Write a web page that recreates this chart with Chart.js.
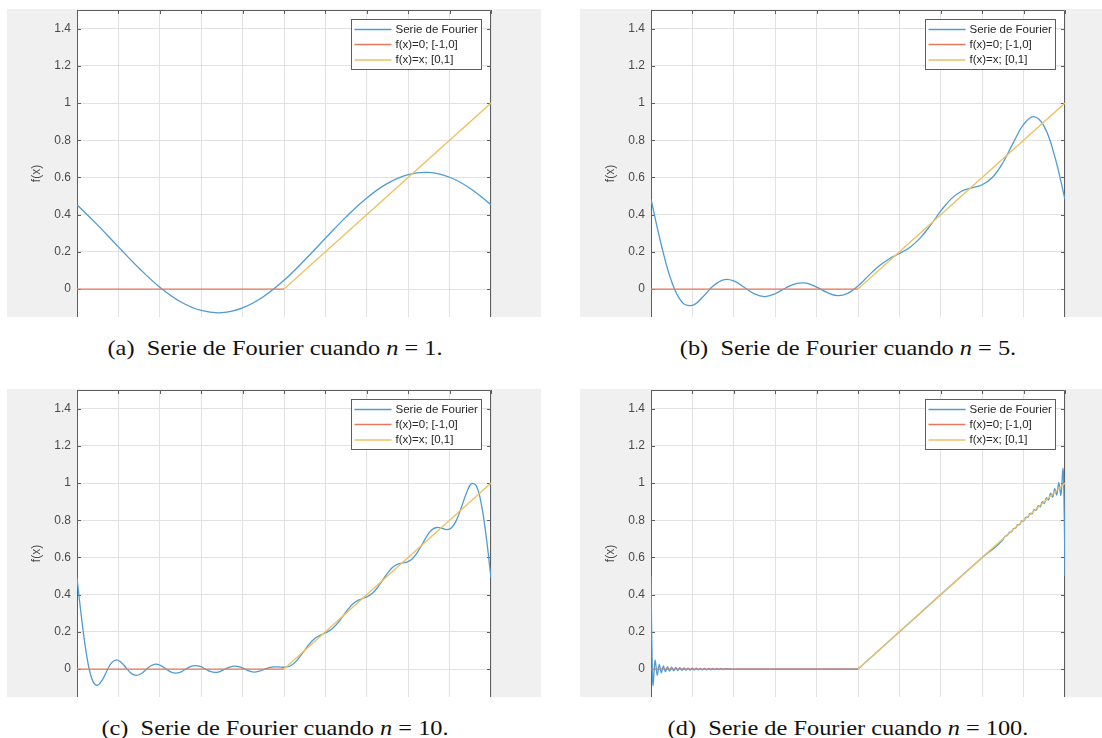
<!DOCTYPE html>
<html>
<head>
<meta charset="utf-8">
<script src="https://cdn.jsdelivr.net/npm/chart.js@4.4.1/dist/chart.umd.min.js"></script>
<style>
  body { margin: 0; background: #fff; width: 1102px; height: 738px; position: relative; overflow: hidden; }
  canvas { position: absolute; }
  .cap { position: absolute; font-family: "Liberation Serif", "DejaVu Serif", serif; font-size: 21px; line-height: 24px;
         color: #111; white-space: nowrap; transform: translateX(-50%) scaleX(1.16); }
</style>
</head>
<body>
<canvas id="chartA" width="534" height="308" style="left:7px;top:9px"></canvas>
<canvas id="chartB" width="522" height="308" style="left:580px;top:9px"></canvas>
<canvas id="chartC" width="534" height="308" style="left:7px;top:389px"></canvas>
<canvas id="chartD" width="522" height="308" style="left:580px;top:389px"></canvas>
<div class="cap" style="left:275px;top:336px">(a)&ensp;Serie de Fourier cuando <i>n</i> = 1.</div>
<div class="cap" style="left:848px;top:336px">(b)&ensp;Serie de Fourier cuando <i>n</i> = 5.</div>
<div class="cap" style="left:275px;top:716px">(c)&ensp;Serie de Fourier cuando <i>n</i> = 10.</div>
<div class="cap" style="left:848px;top:716px">(d)&ensp;Serie de Fourier cuando <i>n</i> = 100.</div>
<script>
// axis ticks and legend texts
const xTicks = [-1, -0.8, -0.6, -0.4, -0.2, 0, 0.2, 0.4, 0.6, 0.8, 1];
const yTicks = [0, 0.2, 0.4, 0.6, 0.8, 1, 1.2, 1.4];
const yTickLabels = ['0', '0.2', '0.4', '0.6', '0.8', '1', '1.2', '1.4'];
const yTitle = 'f(x)';
const legendLabels = ['Serie de Fourier', 'f(x)=0; [-1,0]', 'f(x)=x; [0,1]'];

// the two pieces of f(x)
const zeroX = [-1, 0];
const zeroY = [0, 0];
const rampX = [0, 1];
const rampY = [0, 1];

// n = 1
const xN1 = [-1, -0.9, -0.8, -0.7, -0.6, -0.5, -0.4, -0.3, -0.2, -0.1, 0, 0.1, 0.2, 0.3, 0.4, 0.5, 0.6, 0.7, 0.8, 0.9, 1];
const yN1 = [0.453, 0.344, 0.227, 0.112, 0.010, -0.068, -0.115, -0.127, -0.101, -0.041, 0.047,
             0.156, 0.273, 0.388, 0.490, 0.568, 0.615, 0.627, 0.601, 0.541, 0.453];

// n = 5
const xN5 = [-1, -0.95, -0.9, -0.85, -0.8, -0.75, -0.7, -0.65, -0.6, -0.55, -0.5, -0.45, -0.4, -0.35, -0.3, -0.25, -0.2, -0.15, -0.1, -0.05,
             0, 0.05, 0.1, 0.15, 0.2, 0.25, 0.3, 0.35, 0.4, 0.45, 0.5, 0.55, 0.6, 0.65, 0.7, 0.75, 0.8, 0.85, 0.9, 0.95, 1];
const yN5 = [0.483, 0.237, 0.039, -0.070, -0.087, -0.043, 0.016, 0.050, 0.044, 0.010, -0.026, -0.040, -0.025, 0.006, 0.030, 0.032, 0.011, -0.018, -0.035, -0.023,
             0.017, 0.071, 0.123, 0.162, 0.191, 0.224, 0.274, 0.343, 0.420, 0.485, 0.526, 0.544, 0.561, 0.601, 0.679, 0.786, 0.885, 0.927, 0.873, 0.715, 0.483];

// n = 10
const xN10 = [-1, -0.9762, -0.9524, -0.9286, -0.9048, -0.881, -0.8571, -0.8333, -0.8095, -0.7857, -0.7619, -0.7381, -0.7143, -0.6905,
              -0.6667, -0.6429, -0.619, -0.5952, -0.5714, -0.5476, -0.5238, -0.5, -0.4762, -0.4524, -0.4286, -0.4048, -0.381, -0.3571,
              -0.3333, -0.3095, -0.2857, -0.2619, -0.2381, -0.2143, -0.1905, -0.1667, -0.1429, -0.119, -0.0952, -0.0714, -0.0476, -0.0238,
              0, 0.0238, 0.0476, 0.0714, 0.0952, 0.119, 0.1429, 0.1667, 0.1905, 0.2143, 0.2381, 0.2619, 0.2857, 0.3095,
              0.3333, 0.3571, 0.381, 0.4048, 0.4286, 0.4524, 0.4762, 0.5, 0.5238, 0.5476, 0.5714, 0.5952, 0.619, 0.6429,
              0.6667, 0.6905, 0.7143, 0.7381, 0.7619, 0.7857, 0.8095, 0.8333, 0.8571, 0.881, 0.9048, 0.9286, 0.9524, 0.9762, 1];
const yN10 = [0.490, 0.258, 0.067, -0.051, -0.088, -0.064, -0.013, 0.033, 0.049, 0.036, 0.005, -0.023, -0.034, -0.025,
              -0.003, 0.018, 0.027, 0.019, 0.002, -0.015, -0.022, -0.016, -0.001, 0.013, 0.019, 0.014, 0.001, -0.012,
              -0.018, -0.013, -0.001, 0.011, 0.016, 0.012, 0.001, -0.011, -0.016, -0.011, -0.002, 0.008, 0.012, 0.012,
              0.010, 0.014, 0.030, 0.059, 0.094, 0.130, 0.159, 0.177, 0.190, 0.203, 0.222, 0.251, 0.286, 0.322,
              0.351, 0.369, 0.380, 0.391, 0.409, 0.439, 0.477, 0.516, 0.546, 0.563, 0.570, 0.576, 0.592, 0.625,
              0.669, 0.715, 0.749, 0.761, 0.757, 0.750, 0.760, 0.801, 0.870, 0.945, 0.996, 0.985, 0.892, 0.717, 0.490];

// n = 100
const xN100 = [-1, -0.9975, -0.995, -0.9925, -0.9901, -0.9851, -0.9801, -0.9701, -0.9602, -0.9502, -0.9403, -0.9303, -0.9204, -0.9104,
               -0.9005, -0.8905, -0.8806, -0.8706, -0.8607, -0.8507, -0.8408, -0.8308, -0.8209, -0.8109, -0.801, -0.791, -0.7811,
               -0.7711, -0.7612, -0.7512, -0.7413, -0.7313, -0.7214, -0.7114, -0.7015, -0.6915, -0.6816, -0.6716, -0.6617, -0.6517,
               -0.6418, -0.6, -0.3, -0.01, 0, 0.01, 0.02, 0.3, 0.6,
               0.7015, 0.7114, 0.7214, 0.7313, 0.7413, 0.7512, 0.7612, 0.7711, 0.7811, 0.791, 0.801, 0.8109, 0.8209, 0.8308,
               0.8408, 0.8507, 0.8607, 0.8706, 0.8806, 0.8905, 0.9005, 0.9104, 0.9204, 0.9303, 0.9403, 0.9502, 0.9602, 0.9701,
               0.9801, 0.9851, 0.9901, 0.9925, 0.995, 0.9975, 1];
const yN100 = [0.499, 0.258, 0.064, -0.054, -0.090, -0.012, 0.049, -0.033, 0.025, -0.020, 0.017, -0.0145, 0.0127, -0.0113,
               0.0102, -0.0093, 0.0085, -0.0079, 0.0073, -0.0068, 0.0064, -0.0060, 0.0057, -0.0054, 0.0051, -0.0049, 0.0047,
               -0.0045, 0.0043, -0.0042, 0.0040, -0.0039, 0.0037, -0.0036, 0.0035, -0.0034, 0.0033, -0.0032, 0.0031, -0.0030,
               0.0029, 0, 0, 0, 0.001, 0.01, 0.02, 0.3, 0.6,
               0.698, 0.715, 0.718, 0.735, 0.737, 0.755, 0.757, 0.776, 0.776, 0.796, 0.796, 0.816, 0.815, 0.837,
               0.834, 0.858, 0.853, 0.879, 0.872, 0.900, 0.890, 0.922, 0.908, 0.945, 0.923, 0.970, 0.935, 1.003,
               0.932, 0.997, 1.080, 1.046, 0.931, 0.739, 0.499];

const blue = '#4f9bd2';
const orange = '#e4795b';
const yellow = '#edc164';
const lineColors = [blue, orange, yellow];
const gridColor = '#e2e2e2';
const axisColor = '#5e5e5e';
const labelColor = '#4a4a4a';
const tickFont = { family: 'Liberation Sans', size: 12 };

function pts(xs, ys) {
    return xs.map((x, i) => ({ x: x, y: ys[i] }));
}

// grey figure background, white axes, MATLAB style box, inward ticks, y label and boxed legend
const matlabFrame = {
    id: 'matlabFrame',
    beforeDraw(chart) {
        const ctx = chart.ctx, a = chart.chartArea;
        ctx.save();
        ctx.fillStyle = '#f0f0f0';
        ctx.fillRect(0, 0, chart.width, chart.height);
        ctx.fillStyle = '#ffffff';
        ctx.fillRect(a.left, a.top, a.right - a.left, a.bottom - a.top);
        ctx.restore();
    },
    beforeDatasetsDraw(chart) {
        // box and ticks sit under the curves, so the Gibbs spikes at x = ±1 stay visible
        const ctx = chart.ctx, a = chart.chartArea;
        const xs = chart.scales.x, ys = chart.scales.y;
        ctx.save();
        ctx.strokeStyle = axisColor;
        ctx.lineWidth = 1;
        ctx.beginPath();
        ctx.moveTo(a.left + 0.5, a.bottom);
        ctx.lineTo(a.left + 0.5, a.top + 0.5);
        ctx.lineTo(a.right - 0.5, a.top + 0.5);
        ctx.lineTo(a.right - 0.5, a.bottom);
        for (const v of yTicks) {
            const py = Math.round(ys.getPixelForValue(v)) + 0.5;
            ctx.moveTo(a.left, py); ctx.lineTo(a.left + 4, py);
            ctx.moveTo(a.right, py); ctx.lineTo(a.right - 4, py);
        }
        for (const v of xTicks) {
            const px = Math.round(xs.getPixelForValue(v)) + 0.5;
            ctx.moveTo(px, a.top); ctx.lineTo(px, a.top + 4);
        }
        ctx.stroke();

        // y label, a little below the middle of the visible axis as in the cropped figure
        ctx.translate(a.left - 40, (a.top + a.bottom) / 2 + 10);
        ctx.rotate(-Math.PI / 2);
        ctx.font = '12px "Liberation Sans"';
        ctx.fillStyle = labelColor;
        ctx.textAlign = 'center';
        ctx.textBaseline = 'middle';
        ctx.fillText(yTitle, 0, 0);
        ctx.restore();
    },
    afterDraw(chart) {
        const ctx = chart.ctx, a = chart.chartArea;
        ctx.save();
        const w = 130, h = 50;
        const bx = Math.round(a.right - 10 - w) + 0.5, by = Math.round(a.top + 9) + 0.5;
        ctx.fillStyle = '#ffffff';
        ctx.fillRect(bx, by, w, h);
        ctx.strokeStyle = axisColor;
        ctx.lineWidth = 1;
        ctx.strokeRect(bx, by, w, h);
        ctx.font = '11.5px "Liberation Sans"';
        ctx.textBaseline = 'middle';
        ctx.fillStyle = '#262626';
        const rows = [10, 25, 40.5];
        legendLabels.forEach((lab, i) => {
            const ry = by + rows[i];
            ctx.strokeStyle = lineColors[i];
            ctx.lineWidth = 1.3;
            ctx.beginPath();
            ctx.moveTo(bx + 3, ry); ctx.lineTo(bx + 40, ry);
            ctx.stroke();
            ctx.fillText(lab, bx + 44, ry);
        });
        ctx.restore();
    }
};

function makeChart(id, xs, ys, smooth, axisW, padRight) {
    new Chart(document.getElementById(id), {
        type: 'line',
        data: {
            datasets: [
                { label: legendLabels[0], data: pts(xs, ys), borderColor: blue, borderWidth: 1.3, order: 2,
                  tension: smooth === 'monotone' ? 0 : 0.4, cubicInterpolationMode: smooth === 'monotone' ? 'monotone' : 'default' },
                { label: legendLabels[1], data: pts(zeroX, zeroY), borderColor: orange, borderWidth: 1.3, order: 1, tension: 0 },
                { label: legendLabels[2], data: pts(rampX, rampY), borderColor: yellow, borderWidth: 1.3, order: 0, tension: 0 }
            ]
        },
        options: {
            responsive: false,
            animation: false,
            events: [],
            elements: { point: { radius: 0 } },
            layout: { padding: { left: 0, top: 1, right: padRight, bottom: 0 } },
            plugins: { legend: { display: false }, tooltip: { enabled: false } },
            scales: {
                x: {
                    type: 'linear', min: -1, max: 1,
                    afterBuildTicks: (s) => { s.ticks = xTicks.map(v => ({ value: v })); },
                    afterFit: (s) => { s.height = 0; s.paddingLeft = 0; s.paddingRight = 0; },
                    grid: { color: gridColor, drawTicks: false },
                    border: { display: false },
                    ticks: { display: false }
                },
                y: {
                    type: 'linear', min: -0.15, max: 1.5,
                    afterBuildTicks: (s) => { s.ticks = yTicks.map(v => ({ value: v })); },
                    afterFit: (s) => { s.width = axisW; s.paddingTop = 0; s.paddingBottom = 0; },
                    grid: { color: gridColor, drawTicks: false },
                    border: { display: false },
                    ticks: { padding: 6, color: labelColor, font: tickFont, callback: (v, i) => yTickLabels[i] }
                }
            }
        },
        plugins: [matlabFrame]
    });
}

makeChart('chartA', xN1, yN1, 'spline', 70, 50);
makeChart('chartB', xN5, yN5, 'spline', 71, 37);
makeChart('chartC', xN10, yN10, 'spline', 70, 50);
makeChart('chartD', xN100, yN100, 'monotone', 71, 37);
</script>
</body>
</html>
